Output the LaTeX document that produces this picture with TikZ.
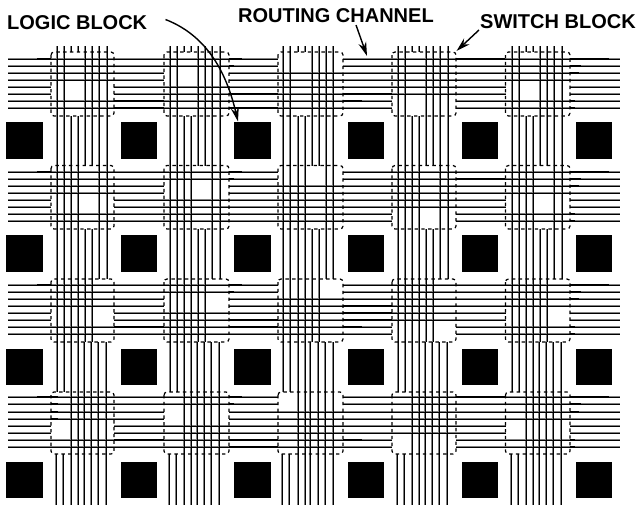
\documentclass[tikz,border=0pt]{standalone}
\usepackage{fontspec}
\setmainfont{Liberation Sans}
\usetikzlibrary{arrows.meta}
\tikzset{
  wire/.style={line width=1.3pt,black},
  halo/.style={line width=1.3pt,black!50},
  swbox/.style={line width=1.2pt,black,dash pattern=on 3.4pt off 3.4pt,rounded corners=3pt},
  logicbox/.style={fill=black,draw=none},
  lbl/.style={inner sep=0pt,anchor=base west,font=\bfseries\fontsize{20}{22}\selectfont},
  pointer/.style={line width=1.4pt,black,-{Stealth[length=14pt,width=8pt]}}
}
\def\offA{{0,7,14.5,21.5,28.5,35.5,42.5,50}}
\def\offB{{0,7,14.5,21.5,27,34.5,41.5,49.5}}
\def\offC{{-1,6,14.5,21.5,27,34.5,41.5,49.5}}
\def\offH{{0,7.1,14.3,21.3,28.3,35.3,42.5,49.7}}
\begin{document}
\begin{tikzpicture}[x=1pt,y=-1pt]
\useasboundingbox (0,0) rectangle (637,506);
% logic blocks
\foreach \xa/\xb in {6.3/42.7,120.5/157,234/270.5,348/384.3,462/498.3,575.5/612}
  \foreach \ya/\yb in {122.3/159.3,235/272,348.5/385,461.5/498.3}
    \fill[logicbox] (\xa,\ya) rectangle (\xb,\yb);
% grey soft edges of the vertical tracks
\foreach \base in {57,170,283.5,398,512}
  \foreach \t in {0,...,7}{
    \pgfmathsetmacro\xA{floor(\base+\offA[\t])-0.5}
    \pgfmathsetmacro\xB{floor(\base+\offB[\t])-0.5}
    \pgfmathsetmacro\xC{floor(\base+\offC[\t])-0.5}
    \pgfmathsetmacro\ya{(\t==2||\t==3)?52:116}
    \draw[halo] (\xA,46) -- (\xA,\ya);
    \pgfmathsetmacro\yb{(\t==4||\t==5)?165.5:229}
    \draw[halo] (\xA,116) -- (\xA,\yb);
    \pgfmathsetmacro\yc{(\t==6||\t==7)?279:342}
    \draw[halo] (\xA,229) -- (\xA,\yc);
    \pgfmathsetmacro\yd{(\t==0||\t==1)?392:454}
    \draw[halo] (\xB,342) -- (\xB,\yd);
    \draw[halo] (\xC,454) -- (\xC,504.5);
  }
% grey soft edges of the horizontal tracks
\foreach \base in {59.2,172,285,397.8}
  \foreach \t in {0,...,7}{
    \pgfmathsetmacro\yy{floor(\base+\offH[\t])-0.5}
    \pgfmathsetmacro\xa{(\t==4||\t==5)?51:114}
    \draw[halo] (8,\yy) -- (\xa,\yy);
    \pgfmathsetmacro\xb{(\t==2||\t==3)?164:229}
    \draw[halo] (114,\yy) -- (\xb,\yy);
    \pgfmathsetmacro\xc{(\t==0||\t==1)?278:343}
    \draw[halo] (229,\yy) -- (\xc,\yy);
    \pgfmathsetmacro\xd{(\t==6||\t==7)?392:456}
    \draw[halo] (343,\yy) -- (\xd,\yy);
    \pgfmathsetmacro\xe{(\t==4||\t==5)?505.5:570}
    \draw[halo] (456,\yy) -- (\xe,\yy);
    \draw[halo] (570,\yy) -- (620,\yy);
  }
% switch blocks
\foreach \xa/\xb in {51/114,164/229,278/343,392/456,505.5/570}
  \foreach \ya/\yb in {52/116,165.5/229,279/342,392/454}
    \draw[swbox] (\xa,\ya) rectangle (\xb,\yb);
% vertical tracks
\foreach \base in {57,170,283.5,398,512}
  \foreach \t in {0,...,7}{
    \pgfmathsetmacro\xA{floor(\base+\offA[\t])+0.5}
    \pgfmathsetmacro\xB{floor(\base+\offB[\t])+0.5}
    \pgfmathsetmacro\xC{floor(\base+\offC[\t])+0.5}
    \pgfmathsetmacro\ya{(\t==2||\t==3)?52:116}
    \draw[wire] (\xA,46) -- (\xA,\ya);
    \pgfmathsetmacro\yb{(\t==4||\t==5)?165.5:229}
    \draw[wire] (\xA,116) -- (\xA,\yb);
    \pgfmathsetmacro\yc{(\t==6||\t==7)?279:342}
    \draw[wire] (\xA,229) -- (\xA,\yc);
    \pgfmathsetmacro\yd{(\t==0||\t==1)?392:454}
    \draw[wire] (\xB,342) -- (\xB,\yd);
    \draw[wire] (\xC,454) -- (\xC,504.5);
  }
% horizontal tracks
\foreach \base in {59.2,172,285,397.8}
  \foreach \t in {0,...,7}{
    \pgfmathsetmacro\yy{floor(\base+\offH[\t])+0.5}
    \pgfmathsetmacro\xa{(\t==4||\t==5)?51:114}
    \draw[wire] (8,\yy) -- (\xa,\yy);
    \pgfmathsetmacro\xb{(\t==2||\t==3)?164:229}
    \draw[wire] (114,\yy) -- (\xb,\yy);
    \pgfmathsetmacro\xc{(\t==0||\t==1)?278:343}
    \draw[wire] (229,\yy) -- (\xc,\yy);
    \pgfmathsetmacro\xd{(\t==6||\t==7)?392:456}
    \draw[wire] (343,\yy) -- (\xd,\yy);
    \pgfmathsetmacro\xe{(\t==4||\t==5)?505.5:570}
    \draw[wire] (456,\yy) -- (\xe,\yy);
    \draw[wire] (570,\yy) -- (620,\yy);
  }
% heavier runs
\foreach \base in {59.2,172,285,397.8}{
  \foreach \t/\xa/\xb in {0/37/51,0/229/242,1/229/234,0/570/609,1/570/581,2/570/579,6/570/575,7/570/575}{
    \pgfmathsetmacro\yy{floor(\base+\offH[\t])-0.5}
    \draw[wire] (\xa,\yy) -- (\xb,\yy);
  }
}
\foreach \base/\t/\xa/\xb in {
  59.2/6/114/164,59.2/7/114/164,59.2/5/229/278,59.2/7/229/278,59.2/5/343/392,59.2/6/343/362,59.2/0/456/505,
  172/1/456/505,
  285/6/114/164,285/5/229/278,285/6/229/278,285/3/343/392,285/4/343/392,285/5/343/392,285/6/343/362,
  397.8/6/114/164,397.8/6/229/278,397.8/7/229/278,397.8/0/456/505,397.8/6/343/362,
  397.8/0/51/58,397.8/1/51/58,397.8/2/51/58,397.8/3/51/58}{
  \pgfmathsetmacro\yy{floor(\base+\offH[\t])-0.5}
  \draw[wire] (\xa,\yy) -- (\xb,\yy);
}
% labels
\node[lbl] (logic) at (7,29) {LOGIC BLOCK};
\node[lbl] (routing) at (238,23) {ROUTING CHANNEL};
\node[lbl] (switch) at (480,28.5) {SWITCH BLOCK};
% pointers
\coordinate (logicstart) at (165.5,19.5);
\coordinate (logictip) at (238,121.5);
\coordinate (routingstart) at (356,25);
\coordinate (routingtip) at (367,56);
\coordinate (switchstart) at (479,30);
\coordinate (switchtip) at (456.5,51);
\draw[pointer] (logicstart) .. controls (200,33) and (224,62) .. (logictip);
\draw[pointer] (routingstart) -- (routingtip);
\draw[pointer] (switchstart) -- (switchtip);
\end{tikzpicture}
\end{document}
